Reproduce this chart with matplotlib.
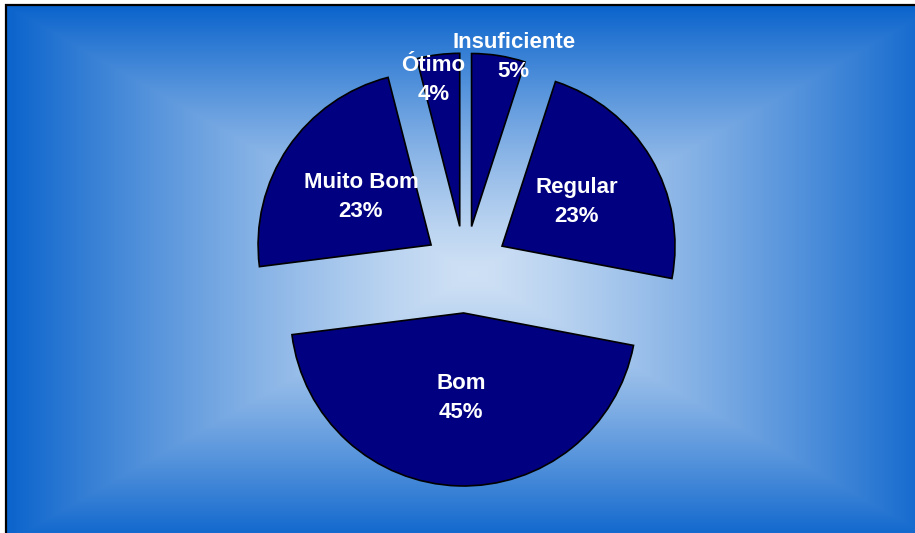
# pie chart: avaliação (Insuficiente .. Ótimo), exploded slices on blue gradient
import numpy as np
import matplotlib
matplotlib.use("Agg")
import matplotlib.pyplot as plt
from matplotlib.patches import Rectangle

categories = ["Insuficiente", "Regular", "Bom", "Muito Bom", "Ótimo"]
percent = [5, 23, 45, 23, 4]

W, H = 915, 533

# styling
slice_color = "#000080"
explode = [42, 43, 45, 41, 42]          # in pixels (data units)
label_dist = [1.01, 0.50, 0.49, 0.49, 0.86]
label_turn = [-5, 0, 0, 0, 3]           # degrees, nudges the small labels apart
line_gap = 14.5                          # half the distance between name and %
edge_rgb = np.array([0.04, 0.39, 0.80])
center_rgb = np.array([0.81, 0.88, 0.96])

fig = plt.figure(figsize=(W / 100, H / 100), dpi=100)
fig.patch.set_facecolor("white")
ax = fig.add_axes([0, 0, 1, 1])

# rectangular "from center" gradient, like the office fill
x0, x1, y0, y1 = 6, 920, 4, 528
xs = np.linspace(-1, 1, 600)
ys = np.linspace(-1, 1, 400)
gx, gy = np.meshgrid(xs, ys)
t = np.maximum(np.abs(gx), np.abs(gy)) ** 1.3
img = center_rgb + (edge_rgb - center_rgb) * t[..., None]
ax.imshow(img, extent=(x0, x1 + 20, -10, y1), origin="lower", aspect="auto",
          zorder=0, interpolation="bilinear")
# frame only shows on the left and top
ax.add_patch(Rectangle((x0, -20), W, y1 + 20, fill=False,
                       edgecolor="black", linewidth=1.6, zorder=1))

wedges, _ = ax.pie(percent, center=(465, 265), radius=173, startangle=90,
                   counterclock=False, explode=explode, colors=[slice_color] * 5,
                   wedgeprops=dict(edgecolor="black", linewidth=1.2),
                   frame=True)
ax.set_xlim(0, W)
ax.set_ylim(0, H)
ax.set_aspect("equal")
ax.axis("off")

txt = dict(ha="center", va="center", color="white", fontsize=16,
           fontweight="bold", family="Liberation Sans", zorder=5)
for w, name, p, d, turn in zip(wedges, categories, percent, label_dist, label_turn):
    th = np.deg2rad((w.theta1 + w.theta2) / 2 + turn)
    cx, cy = w.center
    lx = cx + w.r * d * np.cos(th)
    ly = cy + w.r * d * np.sin(th)
    ax.text(lx, ly + line_gap, name, **txt)
    ax.text(lx, ly - line_gap, f"{p}%", **txt)

plt.savefig("out.png", dpi=100)
